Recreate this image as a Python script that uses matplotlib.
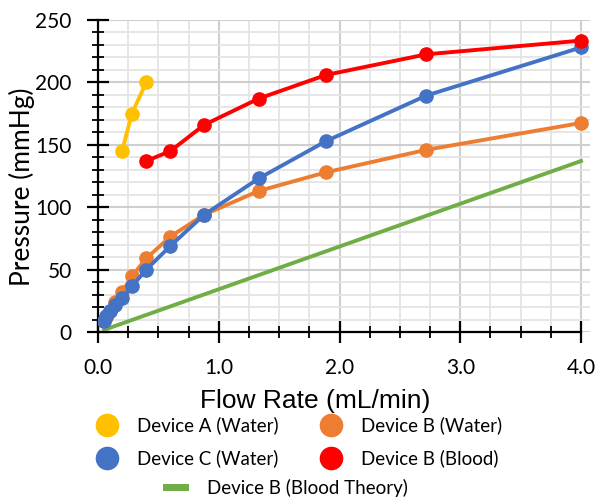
import matplotlib.pyplot as plt
from matplotlib.lines import Line2D
from matplotlib.ticker import MultipleLocator

# === Data ===
flow_a = [0.20, 0.28, 0.40]
pres_a = [145, 175, 200]

flow_bc = [0.05, 0.066, 0.10, 0.14, 0.20, 0.28, 0.40, 0.60, 0.88, 1.33, 1.89, 2.72, 4.00]
pres_b_water = [9, 12, 17, 24, 32, 44.5, 59, 76.5, 94, 113, 128, 146, 167.5]
pres_c_water = [8.5, 12.5, 16.5, 21.5, 27, 36.5, 50, 69, 94, 123, 153, 189.5, 228]

flow_blood = [0.40, 0.60, 0.88, 1.33, 1.89, 2.72, 4.00]
pres_b_blood = [137, 145, 166, 187, 206, 222.5, 233.5]

flow_theory = [0.05, 2.00, 4.00]
pres_theory = [1.7, 68.5, 137]

yellow = "#FFC000"
orange = "#ED7D31"
blue = "#4472C4"
red = "#FF0000"
green = "#70AD47"

plt.rcParams["font.family"] = ["Lato", "DejaVu Sans"]

fig = plt.figure(figsize=(5.98, 4.98), dpi=100)
ax = fig.add_axes([98 / 598, 166 / 498, 492 / 598, 312 / 498])

ms = 9.5
lw = 2.8
ax.plot(flow_theory, pres_theory, color=green, lw=lw, zorder=2)
ax.plot(flow_bc, pres_b_water, color=orange, lw=lw, marker="o", ms=ms, zorder=3)
ax.plot(flow_bc, pres_c_water, color=blue, lw=lw, marker="o", ms=ms, zorder=4)
ax.plot(flow_blood, pres_b_blood, color=red, lw=lw, marker="o", ms=ms, zorder=5)
ax.plot(flow_a, pres_a, color=yellow, lw=lw, marker="o", ms=ms, zorder=5)

# === Axes / grid ===
ax.set_xlim(0, 4.0 * 492 / 483)
ax.set_ylim(0, 250)
ax.xaxis.set_major_locator(MultipleLocator(1.0))
ax.xaxis.set_minor_locator(MultipleLocator(0.25))
ax.yaxis.set_major_locator(MultipleLocator(50))
ax.yaxis.set_minor_locator(MultipleLocator(10))
ax.set_xticks([0, 1, 2, 3, 4])
ax.set_xticklabels(["0.0", "1.0", "2.0", "3.0", "4.0"])

ax.grid(which="minor", color="#e4e4e4", lw=1.3, zorder=0)
ax.grid(which="major", color="#cfcfcf", lw=1.5, zorder=0)
ax.set_axisbelow(True)

for s in ["top", "right"]:
    ax.spines[s].set_visible(False)
ax.spines["left"].set_linewidth(1.6)
ax.spines["bottom"].set_linewidth(1.6)
ax.spines["bottom"].set_bounds(0, 4.0)

ax.tick_params(which="major", direction="inout", length=16, width=1.6,
               labelsize=15, colors="black")
ax.tick_params(which="minor", direction="inout", length=8, width=1.3)
ax.tick_params(axis="x", which="major", pad=11)
ax.tick_params(axis="y", which="major", pad=11)

fig.text(315 / 598, 1 - 401 / 498, "Flow Rate (mL/min)", ha="center", va="center",
         fontsize=19, family=["Liberation Sans"])
fig.text(22 / 598, 1 - 187 / 498, "Pressure (mmHg)", ha="center", va="center",
         rotation=90, fontsize=19)

# === Legend ===
def dot(c):
    return Line2D([], [], ls="none", marker="o", ms=16, color=c)

# column-wise fill: A / C in column 1, B water / B blood in column 2
leg1 = fig.legend([dot(yellow), dot(blue), dot(orange), dot(red)],
                  ["Device A (Water)", "Device C (Water)",
                   "Device B (Water)", "Device B (Blood)"],
                  ncol=2, loc="center", bbox_to_anchor=(0.5, 1 - 442 / 498),
                  frameon=False, fontsize=13.5, handlelength=1.2,
                  columnspacing=2.2, labelspacing=0.8, handletextpad=1.0)
fig.legend([Line2D([], [], color=green, lw=5)], ["Device B (Blood Theory)"],
           loc="center", bbox_to_anchor=(0.48, 1 - 488 / 498), frameon=False,
           fontsize=13.5, handlelength=1.0, handletextpad=1.2)

fig.savefig("out.png", dpi=100)
